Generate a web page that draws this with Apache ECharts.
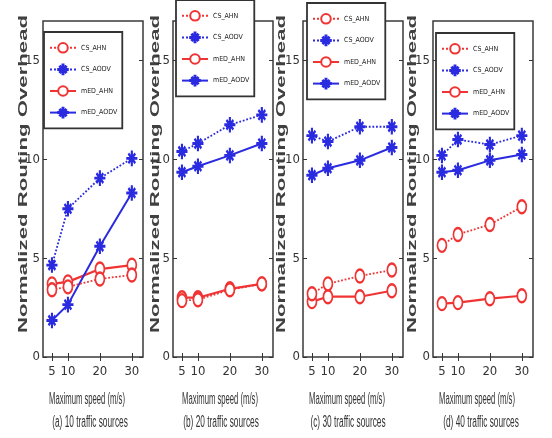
<!DOCTYPE html>
<html>
<head>
<meta charset="utf-8">
<script src="https://cdn.jsdelivr.net/npm/echarts@6/dist/echarts.min.js"></script>
<style>
html,body{margin:0;padding:0;background:#fff;}
#chart{width:552px;height:438px;}
</style>
</head>
<body>
<div id="chart"></div>
<script>
// ---- data ----
var speeds = [5, 10, 20, 30];
var seriesNames = ['CS_AHN', 'CS_AODV', 'mED_AHN', 'mED_AODV'];
var xTicks = [5, 10, 20, 30];
var yTicks = [0, 5, 10, 15];
var captions = ['(a) 10 traffic sources', '(b) 20 traffic sources', '(c) 30 traffic sources', '(d) 40 traffic sources'];
var xTitle = 'Maximum speed (m/s)';
var yTitle = 'Normalized Routing Overhead';

// panel (a) 10 traffic sources
var csAhnA   = [3.4, 3.55, 3.95, 4.15];
var csAodvA  = [4.65, 7.5, 9.05, 10.05];
var medAhnA  = [3.7, 3.8, 4.45, 4.65];
var medAodvA = [1.85, 2.65, 5.6, 8.3];
// panel (b) 20 traffic sources
var csAhnB   = [2.85, 2.9, 3.4, 3.7];
var csAodvB  = [10.4, 10.8, 11.75, 12.25];
var medAhnB  = [3.0, 3.0, 3.45, 3.7];
var medAodvB = [9.35, 9.65, 10.2, 10.8];
// panel (c) 30 traffic sources
var csAhnC   = [3.2, 3.7, 4.1, 4.4];
var csAodvC  = [11.2, 10.9, 11.65, 11.65];
var medAhnC  = [2.8, 3.05, 3.05, 3.35];
var medAodvC = [9.2, 9.55, 9.95, 10.6];
// panel (d) 40 traffic sources
var csAhnD   = [5.65, 6.2, 6.7, 7.6];
var csAodvD  = [10.2, 11.0, 10.75, 11.2];
var medAhnD  = [2.7, 2.75, 2.95, 3.1];
var medAodvD = [9.35, 9.45, 9.95, 10.25];

var panels = [
  [csAhnA, csAodvA, medAhnA, medAodvA],
  [csAhnB, csAodvB, medAhnB, medAodvB],
  [csAhnC, csAodvC, medAhnC, medAodvC],
  [csAhnD, csAodvD, medAhnD, medAodvD]
];

// ---- layout / style ----
var gridLefts = [43, 173, 303, 433];
var gridWidth = 100;
var gridTop = 21, gridHeight = 336;
var legendPos = [[44, 32], [176, 0], [307, 3], [436, 33]];
var yTitleX = [24, 156, 282, 413];
var capX = [[87, 90], [220, 221], [347, 348], [477, 481]];

var RED = '#f03434', BLUE = '#2a2ae0';
var STAR = 'path://M9,0H11V20H9Z M0,9H20V11H0Z M3.2,4.6L4.6,3.2L16.8,15.4L15.4,16.8Z M15.4,3.2L16.8,4.6L4.6,16.8L3.2,15.4Z M7,7H13V13H7Z';
var NARROW = '"Liberation Sans Narrow", "DejaVu Sans Condensed", "Liberation Sans", Arial, sans-serif';

var styles = [
  {color: RED, type: 'dotted', width: 1.8, symbol: 'emptyCircle', size: [9, 13]},
  {color: BLUE, type: 'dotted', width: 1.8, symbol: STAR, size: [10, 14]},
  {color: RED, type: 'solid', width: 2.2, symbol: 'emptyCircle', size: [9, 13]},
  {color: BLUE, type: 'solid', width: 2, symbol: STAR, size: [10, 14]}
];

var grids = [], xAxes = [], yAxes = [], series = [], legends = [], graphics = [];
var xTop = [], yRight = [];
for (var p = 0; p < 4; p++) {
  grids.push({left: gridLefts[p], top: gridTop, width: gridWidth, height: gridHeight,
    show: true, borderColor: '#3a3a3a', borderWidth: 1.5, backgroundColor: '#fff'});
  xAxes.push({type: 'value', gridIndex: p, min: 2.2, max: 33.5, position: 'bottom',
    axisLine: {show: false}, splitLine: {show: false},
    axisTick: {show: true, inside: true, length: 4, customValues: xTicks, lineStyle: {color: '#333'}},
    axisLabel: {customValues: xTicks, margin: 8, color: '#333', fontSize: 13, fontFamily: NARROW}});
  xTop.push({type: 'value', gridIndex: p, min: 2.2, max: 33.5, position: 'top',
    axisLine: {show: false}, splitLine: {show: false}, axisLabel: {show: false},
    axisTick: {show: true, inside: true, length: 4, customValues: xTicks, lineStyle: {color: '#333'}}});
  yAxes.push({type: 'value', gridIndex: p, min: 0, max: 17, position: 'left',
    axisLine: {show: false}, splitLine: {show: false},
    axisTick: {show: true, inside: true, length: 4, customValues: yTicks, lineStyle: {color: '#333'}},
    axisLabel: {customValues: yTicks, margin: 3, color: '#333', fontSize: 13, fontFamily: NARROW}});
  yRight.push({type: 'value', gridIndex: p, min: 0, max: 17, position: 'right',
    axisLine: {show: false}, splitLine: {show: false}, axisLabel: {show: false},
    axisTick: {show: true, inside: true, length: 4, customValues: yTicks, lineStyle: {color: '#333'}}});

  for (var k = 0; k < 4; k++) {
    var st = styles[k];
    var vals = panels[p][k];
    series.push({
      type: 'line', name: seriesNames[k], xAxisIndex: p, yAxisIndex: p,
      data: speeds.map(function (s, i) { return [s, vals[i]]; }),
      symbol: st.symbol, symbolSize: st.size, showAllSymbol: true,
      lineStyle: {color: st.color, type: st.type, width: st.width},
      itemStyle: {color: st.color, borderColor: st.color, borderWidth: 1.3},
      emphasis: {disabled: true}, animation: false, z: k < 2 ? 3 : 2
    });
  }

  legends.push({orient: 'vertical', left: legendPos[p][0], top: legendPos[p][1],
    padding: [10, 5, 10, 5], itemWidth: 26, itemHeight: 12, itemGap: 10,
    backgroundColor: '#fff', borderColor: '#333', borderWidth: 1.8,
    textStyle: {fontSize: 7, fontFamily: NARROW, color: '#222'},
    data: seriesNames, selectedMode: false});

  graphics.push({type: 'text', x: yTitleX[p], y: 174, rotation: Math.PI / 2, scaleX: 1.85, scaleY: 1,
    style: {text: yTitle, font: 'bold 12px "Liberation Sans", Arial, sans-serif', fill: '#404040',
      align: 'center', verticalAlign: 'middle', textAlign: 'center', textVerticalAlign: 'middle'}});
  graphics.push({type: 'text', x: capX[p][0], y: 400, scaleX: 0.48, scaleY: 1,
    style: {text: xTitle, font: '16px "Liberation Sans", Arial, sans-serif', fill: '#333',
      align: 'center', verticalAlign: 'middle', textAlign: 'center', textVerticalAlign: 'middle'}});
  graphics.push({type: 'text', x: capX[p][1], y: 423, scaleX: 0.52, scaleY: 1,
    style: {text: captions[p], font: '16px "Liberation Sans", Arial, sans-serif', fill: '#333',
      align: 'center', verticalAlign: 'middle', textAlign: 'center', textVerticalAlign: 'middle'}});
}

var chart = echarts.init(document.getElementById('chart'), null, {renderer: 'canvas'});
chart.setOption({
  animation: false,
  backgroundColor: '#fff',
  grid: grids,
  xAxis: xAxes.concat(xTop),
  yAxis: yAxes.concat(yRight),
  legend: legends,
  series: series,
  graphic: graphics
});
</script>
</body>
</html>
